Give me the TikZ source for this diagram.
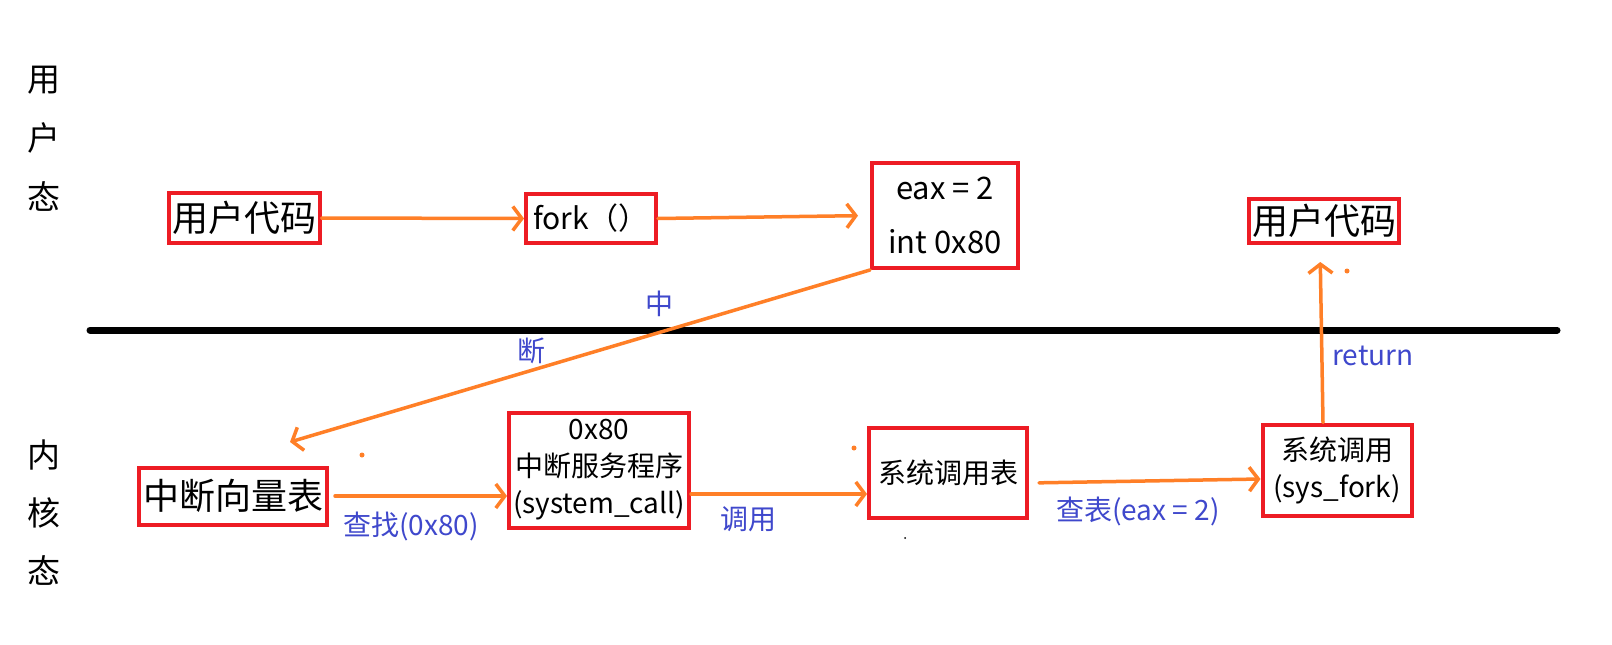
\documentclass[tikz,border=0pt]{standalone}
\usepackage{fontspec}
\setmainfont{Noto Sans CJK SC}
\usetikzlibrary{arrows.meta,calc}
\definecolor{pred}{HTML}{ED1C24}
\definecolor{porange}{HTML}{FF7F27}
\definecolor{pblue}{HTML}{3F48CC}
\tikzset{
 box/.style={draw=pred, line width=4pt, inner sep=0pt, align=center},
 flow/.style={draw=porange, line width=3.5pt, line cap=round, -{Straight Barb[length=9pt,width=24pt]}},
 lbl/.style={text=pblue, inner sep=0pt, font=\fontsize{28}{32}\selectfont},
 side/.style={inner sep=0pt, align=center},
}
\begin{document}
\begin{tikzpicture}[x=1pt,y=-1pt]
\useasboundingbox[fill=white] (0,0) rectangle (1612,645);
% side labels
\node[side, font=\fontsize{33}{59}\selectfont] (user) at (44,139) {用\\户\\态};
\node[side, font=\fontsize{33}{58}\selectfont] (kern) at (44,513) {内\\核\\态};
% divider
\draw[line width=7pt, line cap=round] (90,330) -- (1557,330);
% boxes
\node[box, minimum width=151pt, minimum height=50pt, font=\fontsize{36}{40}\selectfont] (A) at (244,218) {用户代码};
\node[box, minimum width=130pt, minimum height=49pt, font=\fontsize{30}{36}\selectfont] (B) at (591,218.5) {fork（）};
\node[box, minimum width=146pt, minimum height=105pt, font=\fontsize{31}{54}\selectfont] (C) at (945,215.5) {eax = 2\\int 0x80};
\node[box, minimum width=150pt, minimum height=44pt, font=\fontsize{36}{40}\selectfont] (D) at (1324,221) {用户代码};
\node[box, minimum width=188pt, minimum height=57pt, font=\fontsize{36}{40}\selectfont] (E) at (233,496) {中断向量表};
\node[box, minimum width=180pt, minimum height=115pt, font=\fontsize{28}{37}\selectfont] (F) at (599,470) {0x80\\中断服务程序\\(system\_call)};
\node[box, minimum width=158pt, minimum height=90pt, font=\fontsize{28}{30}\selectfont] (G) at (948,473) {系统调用表};
\node[box, minimum width=149pt, minimum height=91pt, font=\fontsize{28}{37}\selectfont] (H) at (1337,470) {系统调用\\(sys\_fork)};
% connectors
\coordinate (eTip) at (290,442);
\draw[flow] (A.east) -- (B.west);
\draw[flow, shorten >=12pt] (B.east) -- (C.west);
\draw[flow] (C.south west) -- (eTip);
\draw[flow, shorten <=6pt] (E.east) -- (E.east -| F.west);
\draw[flow] ([yshift=-24pt]F.east) -- ([yshift=-24pt]F.east -| G.west);
\draw[flow, shorten <=10pt] ([yshift=-10pt]G.east) -- ([yshift=-9pt]H.west);
\draw[flow, shorten >=17pt] ([xshift=-14pt]H.north) -- ([xshift=-4pt]D.south);
% labels
\node[lbl] (l1) at (659,304) {中};
\node[lbl] (l2) at (531,351) {断};
\node[lbl] (l3) at (411,526) {查找(0x80)};
\node[lbl] (l4) at (748,519) {调用};
\node[lbl] (l5) at (1138,511) {查表(eax = 2)};
\node[lbl] (l6) at (1373,356) {return};
% stray dots
\fill[porange] (362,455) circle (2.5pt);
\fill[porange] (854,448) circle (2.5pt);
\fill[porange] (1347,271) circle (2.5pt);
\fill[black] (905,538) circle (1pt);
\end{tikzpicture}
\end{document}
